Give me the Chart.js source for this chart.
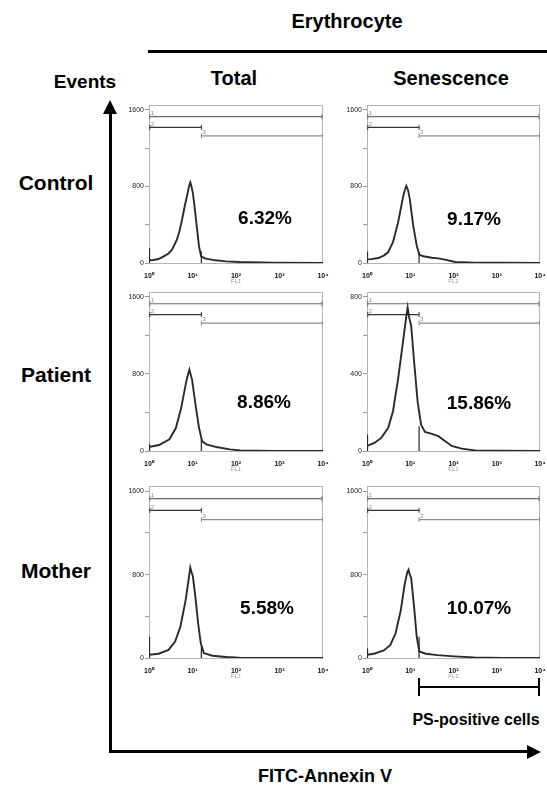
<!DOCTYPE html>
<html>
<head>
<meta charset="utf-8">
<script src="https://cdn.jsdelivr.net/npm/chart.js@4.4.1/dist/chart.umd.min.js"></script>
<style>
body { margin: 0; background: #fff; }
#fig { position: relative; width: 547px; height: 787px; background: #fff; overflow: hidden;
       font-family: "Liberation Sans", Arial, sans-serif; font-weight: bold; color: #000; }
.lbl { position: absolute; transform: translate(-50%, -50%); white-space: nowrap; }
.bar { position: absolute; background: #000; }
canvas { position: absolute; }
</style>
</head>
<body>
<div id="fig"></div>
<script>
// ---- data ----
const rowNames = ['Control', 'Patient', 'Mother'];
const colNames = ['Total', 'Senescence'];
const percents = ['6.32%', '9.17%', '8.86%', '15.86%', '5.58%', '10.07%'];
const yTopTick = [1600, 1600, 1600, 800, 1600, 1600];

const xTicks = [1, 10, 100, 1000, 10000];
const xTickLabels = ['10⁰', '10¹', '10²', '10³', '10⁴'];

const gateNames = ['1', '2', '3'];
const gateFrom = [1.04, 1.04, 16];
const gateTo = [9500, 16, 9800];
const gateLevel = [0.955, 0.885, 0.83];   // share of the top tick
const gateLineTop = [120, 115, 120, 128, 110, 204];

const controlTotalX = [1, 1, 1.02, 1.15, 1.66, 2.34, 2.8, 3.39, 4.37, 5.0, 5.75, 6.6, 7.59, 8.3, 8.9, 9.3, 10.2, 11.2, 12.3, 14.1, 15.8, 20, 34, 59, 120, 708, 10000];
const controlTotalY = [0, 156, 35, 28, 42, 77, 100, 139, 243, 330, 452, 590, 713, 800, 842, 815, 730, 580, 417, 174, 70, 45, 28, 17, 10, 3, 0];

const controlSenX = [1, 1, 1.02, 1.26, 1.82, 2.5, 3.09, 3.98, 5.25, 6.92, 7.6, 8.13, 8.9, 9.77, 11.7, 14.1, 16.2, 20, 31.6, 44.7, 63, 110, 316, 1585, 10000];
const controlSenY = [0, 120, 38, 40, 52, 80, 114, 218, 426, 703, 770, 805, 760, 668, 391, 183, 87, 70, 55, 48, 35, 10, 4, 2, 0];

const patientTotalX = [1, 1, 1.02, 1.7, 2.95, 4.17, 5.5, 7.08, 7.94, 8.5, 9.1, 9.77, 11.7, 14.1, 16.6, 20.9, 35.5, 72, 123, 741, 10000];
const patientTotalY = [0, 76, 41, 62, 121, 241, 448, 707, 800, 845, 790, 741, 483, 241, 103, 69, 41, 17, 7, 1, 0];

const patientSenX = [1, 1, 1.02, 1.51, 2.14, 3.09, 3.98, 5.25, 6.92, 8.13, 8.7, 9.3, 10.5, 12.3, 14.8, 17.8, 21.9, 31.6, 44.7, 64.6, 91, 155, 316, 1122, 10000];
const patientSenY = [0, 85, 26, 43, 68, 120, 205, 376, 581, 701, 745, 700, 650, 462, 256, 137, 99, 89, 77, 51, 26, 12, 3, 1, 0];

const motherTotalX = [1, 1, 1.02, 1.66, 2.82, 3.98, 5.25, 6.92, 8.13, 8.9, 9.55, 10.2, 11.7, 13.5, 15.5, 18.2, 28.8, 58.9, 120, 708, 10000];
const motherTotalY = [0, 204, 31, 41, 78, 157, 298, 549, 752, 868, 820, 784, 580, 329, 141, 47, 22, 9, 3, 0, 0];

const motherSenX = [1, 1, 1.02, 1.45, 2.45, 3.47, 4.57, 6.03, 7.41, 8.5, 9.12, 9.77, 10.5, 12.3, 14.1, 16.2, 22.9, 42.7, 105, 302, 1514, 10000];
const motherSenY = [0, 94, 31, 41, 72, 125, 235, 455, 705, 820, 847, 800, 768, 486, 204, 63, 41, 28, 16, 6, 0, 0];

const curvesX = [controlTotalX, controlSenX, patientTotalX, patientSenX, motherTotalX, motherSenX];
const curvesY = [controlTotalY, controlSenY, patientTotalY, patientSenY, motherTotalY, motherSenY];

// ---- layout (plot boxes in page pixels) ----
const boxes = [
  { l: 149, r: 323, t: 103, b: 263 }, { l: 367, r: 540, t: 103, b: 263 },
  { l: 149, r: 323, t: 290, b: 451 }, { l: 367, r: 540, t: 290, b: 451 },
  { l: 149, r: 323, t: 484, b: 658 }, { l: 367, r: 540, t: 484, b: 658 }
];
const pctPos = [[265, 218], [474, 219], [264, 402], [479, 403], [267, 608], [479, 608]];
const rowY = [183, 375, 571];
const colX = [234, 451];
const ML = 30, MR = 7, MT = 3, MB = 22;

const fig = document.getElementById('fig');

function label(text, x, y, size) {
  const d = document.createElement('div');
  d.className = 'lbl';
  d.textContent = text;
  d.style.left = x + 'px';
  d.style.top = y + 'px';
  d.style.fontSize = size + 'px';
  fig.appendChild(d);
}
function bar(l, t, w, h) {
  const d = document.createElement('div');
  d.className = 'bar';
  d.style.left = l + 'px'; d.style.top = t + 'px';
  d.style.width = w + 'px'; d.style.height = h + 'px';
  fig.appendChild(d);
}
function tri(l, t, css) {
  const d = document.createElement('div');
  d.style.position = 'absolute';
  d.style.left = l + 'px'; d.style.top = t + 'px';
  d.style.width = '0'; d.style.height = '0';
  Object.assign(d.style, css);
  fig.appendChild(d);
}

// headers
label('Erythrocyte', 347, 21, 20);
bar(148, 50, 399, 3);
label('Events', 85, 82, 19);
colNames.forEach((c, i) => label(c, colX[i], 78, 20));
rowNames.forEach((r, i) => label(r, 56, rowY[i], 21));
label('FITC-Annexin V', 325, 776, 18);
label('PS-positive cells', 476, 720, 16);

// axes arrows
bar(109, 112, 3, 641);
tri(103, 100, { borderLeft: '7px solid transparent', borderRight: '7px solid transparent', borderBottom: '14px solid #000' });
bar(109, 750, 420, 3);
tri(527, 744.5, { borderTop: '7px solid transparent', borderBottom: '7px solid transparent', borderLeft: '14px solid #000' });

// PS-positive bracket
bar(418, 686, 122, 2);
bar(418, 678, 2, 18);
bar(538, 678, 2, 18);

const boxPlugin = {
  id: 'box',
  beforeDatasetsDraw(chart) {
    const a = chart.chartArea, c = chart.ctx;
    c.save();
    c.strokeStyle = '#b4b4b4';
    c.lineWidth = 1;
    c.strokeRect(Math.round(a.left) + 0.5, Math.round(a.top) + 0.5, Math.round(a.width) - 1, Math.round(a.height));
    c.restore();
  },
  afterDatasetsDraw(chart) {
    const c = chart.ctx, xs = chart.scales.x, ys = chart.scales.y;
    const top = chart.options.topTick;
    c.save();
    c.fillStyle = '#888';
    c.font = '6px "Liberation Sans", Arial, sans-serif';
    c.textBaseline = 'bottom';
    gateNames.forEach((g, i) => {
      c.fillText(g, xs.getPixelForValue(gateFrom[i]) + 1, ys.getPixelForValue(gateLevel[i] * top) - 0.5);
    });
    c.restore();
  }
};

boxes.forEach((b, p) => {
  const cv = document.createElement('canvas');
  const w = b.r - b.l + ML + MR, h = b.b - b.t + MT + MB;
  cv.width = w; cv.height = h;
  cv.style.left = (b.l - ML) + 'px';
  cv.style.top = (b.t - MT) + 'px';
  fig.appendChild(cv);

  const top = yTopTick[p];
  const gateColors = ['#6a6a6a', '#333', '#8c8c8c'];
  const datasets = [{
    data: curvesX[p].map((x, i) => ({ x: x, y: curvesY[p][i] })),
    borderColor: '#2a2a2a', borderWidth: 1.9, pointRadius: 0, tension: 0, fill: false
  }, {
    data: [{ x: gateFrom[2], y: 0 }, { x: gateFrom[2], y: gateLineTop[p] }],
    borderColor: '#333', borderWidth: 1.3, pointRadius: 0
  }];
  gateNames.forEach((g, i) => {
    datasets.push({
      data: [{ x: gateFrom[i], y: gateLevel[i] * top }, { x: gateTo[i], y: gateLevel[i] * top }],
      borderColor: gateColors[i], borderWidth: 1.2,
      pointStyle: 'line', rotation: 90, pointRadius: 2.5, pointBorderColor: gateColors[i], pointBorderWidth: 1
    });
  });

  new Chart(cv.getContext('2d'), {
    type: 'line',
    data: { datasets: datasets },
    plugins: [boxPlugin],
    options: {
      topTick: top,
      responsive: false,
      animation: false,
      layout: { padding: { top: MT, right: MR, left: 0, bottom: 0 } },
      plugins: { legend: { display: false }, tooltip: { enabled: false } },
      scales: {
        x: {
          type: 'logarithmic', min: 1, max: 10000,
          afterBuildTicks: s => { s.ticks = xTicks.map(v => ({ value: v })); },
          afterFit: s => { s.height = MB; },
          grid: { display: false }, border: { display: false },
          ticks: {
            autoSkip: false, maxRotation: 0, padding: 1, color: '#111',
            font: { size: 7, weight: 'bold', family: '"Liberation Sans", Arial, sans-serif' },
            callback: (v, i) => xTickLabels[i]
          },
          title: { display: true, text: 'FL1', color: '#999', padding: 0,
                   font: { size: 6, family: '"Liberation Sans", Arial, sans-serif' } }
        },
        y: {
          min: 0, max: top * 1.03,
          afterBuildTicks: s => { s.ticks = [0, 0.25, 0.5, 0.75, 1].map(f => ({ value: f * top })); },
          afterFit: s => { s.width = ML; },
          grid: { display: true, drawOnChartArea: false, drawTicks: true, tickLength: 4, color: '#999' },
          border: { display: false },
          ticks: {
            padding: 1, color: '#222',
            font: { size: 7, family: '"Liberation Sans", Arial, sans-serif' },
            callback: v => (v === 0 || v === top || v === top / 2) ? String(v) : ''
          }
        }
      }
    }
  });

  label(percents[p], pctPos[p][0], pctPos[p][1], 19);
});
</script>
</body>
</html>
